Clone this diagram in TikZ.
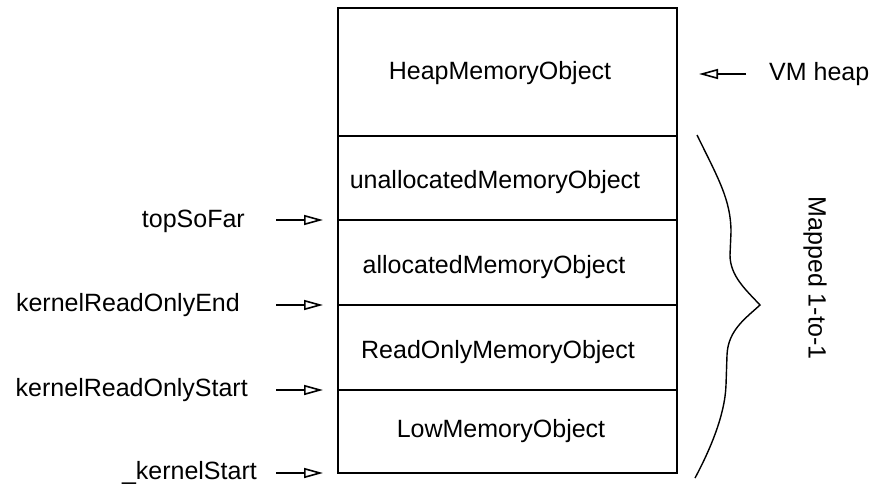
\documentclass[tikz,border=0pt]{standalone}
\usepackage{fontspec}
\setmainfont{Liberation Sans}
\usetikzlibrary{arrows.meta}
\begin{document}
\begin{tikzpicture}[x=1pt,y=-1pt,
  lbl/.style={inner sep=0pt,font=\fontsize{25}{30}\selectfont},
  boxline/.style={line width=1.5pt},
  arr/.style={line width=1.5pt,-{Triangle[open,length=19pt,width=10pt,line width=1.6pt]}}]
\useasboundingbox (0,0) rectangle (875,487);
% memory box
\draw[boxline] (338,8) rectangle (677,473);
\draw[boxline] (338,136) -- (677,136);
\draw[boxline] (338,220) -- (677,220);
\draw[boxline] (338,305) -- (677,305);
\draw[boxline] (338,390) -- (677,390);
% box texts
\node[lbl] (heap) at (500,73) {HeapMemoryObject};
\node[lbl] (unalloc) at (495,182) {unallocatedMemoryObject};
\node[lbl] (alloc) at (494,267) {allocatedMemoryObject};
\node[lbl] (ro) at (498,352) {ReadOnlyMemoryObject};
\node[lbl] (low) at (501,431) {LowMemoryObject};
% left labels
\node[lbl,anchor=east] (tsf) at (245,221) {topSoFar};
\node[lbl,anchor=east] (kroe) at (240,305) {kernelReadOnlyEnd};
\node[lbl,anchor=east] (kros) at (248,390) {kernelReadOnlyStart};
\node[lbl,anchor=east] (ks) at (257,473) {\_kernelStart};
% arrow tips at the box
\coordinate (tA) at (323,220);
\coordinate (tB) at (323,305);
\coordinate (tC) at (323,390);
\coordinate (tD) at (323,473);
\draw[arr] (276,220) -- (tA);
\draw[arr] (276,305) -- (tB);
\draw[arr] (276,390) -- (tC);
\draw[arr] (276,473) -- (tD);
% VM heap
\node[lbl,anchor=west] (vm) at (769,74) {VM heap};
\coordinate (tV) at (699,74);
\draw[arr] (746,74) -- (tV);
% brace
\draw[line width=1.4pt] (697,135) .. controls (718,178) and (731,200) .. (731,232)
  -- (730,255) .. controls (730,276) and (746,290) .. (760,305)
  .. controls (746,318) and (728,330) .. (727,355) -- (726,385)
  .. controls (725,415) and (710,450) .. (695,478);
\node[lbl,rotate=-90] (mapped) at (815,278) {Mapped 1-to-1};
\end{tikzpicture}
\end{document}
